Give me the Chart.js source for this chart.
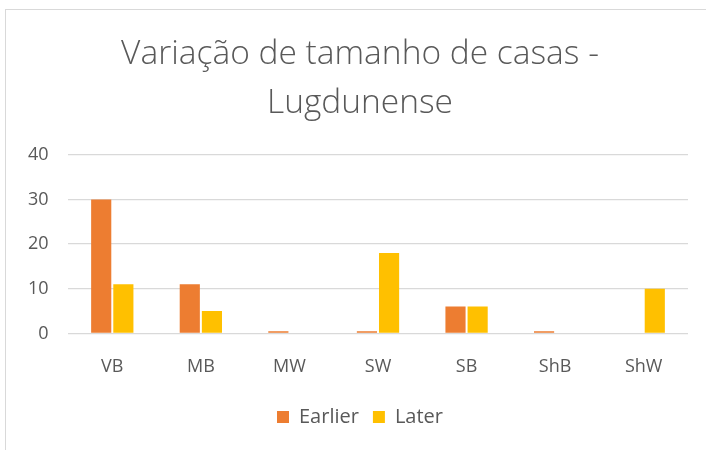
<!DOCTYPE html>
<html><head><meta charset="utf-8">
<script src="https://cdn.jsdelivr.net/npm/chart.js@4"></script>
<style>
html,body{margin:0;padding:0;background:#fff;}
#wrap{position:absolute;left:5px;top:9px;width:710px;height:450px;border-left:1px solid #d9d9d9;border-top:1px solid #d9d9d9;box-sizing:border-box;}
#c{position:absolute;left:0;top:0;}
</style></head><body>
<div id="wrap"><canvas id="c" width="700" height="440"></canvas></div>
<script>
const categories = ["VB","MB","MW","SW","SB","ShB","ShW"];
const earlier = [30, 11, 0.5, 0.5, 6, 0.5, 0];
const later = [11, 5, 0, 18, 6, 0, 10];
const yTicks = [0, 10, 20, 30, 40];
const titleLines = ["Variação de tamanho de casas -", "Lugdunense"];
const seriesNames = ["Earlier", "Later"];

new Chart(document.getElementById('c'), {
  type: 'bar',
  data: {
    labels: categories,
    datasets: [
      {label: seriesNames[0], data: earlier, backgroundColor: '#ED7D31', categoryPercentage: 0.5, barPercentage: 0.91},
      {label: seriesNames[1], data: later, backgroundColor: '#FFC000', categoryPercentage: 0.5, barPercentage: 0.91}
    ]
  },
  options: {
    responsive: false,
    animation: false,
    layout: {padding: {left: 26, right: 18, top: 0, bottom: 13}},
    plugins: {
      title: {display: true, text: titleLines, color: '#595959',
        font: {family: 'Open Sans', size: 33.5, weight: '300', lineHeight: 1.49},
        padding: {top: 19, bottom: 26}},
      legend: {position: 'bottom', labels: {color: '#595959', boxWidth: 12, boxHeight: 12,
        font: {family: 'Open Sans', size: 20}, padding: 14}},
      tooltip: {enabled: false}
    },
    scales: {
      x: {grid: {display: false}, border: {display: false},
        ticks: {color: '#595959', font: {family: 'Open Sans', size: 18}, padding: 15}},
      y: {min: 0, max: 40, afterBuildTicks: ax => { ax.ticks = yTicks.map(v => ({value: v})); },
        afterFit: ax => { ax.width = 36; },
        grid: {color: '#d9d9d9', lineWidth: 1.3, drawTicks: false}, border: {display: false},
        ticks: {color: '#595959', font: {family: 'Open Sans', size: 18}, mirror: true, crossAlign: 'far', padding: -40}}
    }
  }
});
</script>
</body></html>
